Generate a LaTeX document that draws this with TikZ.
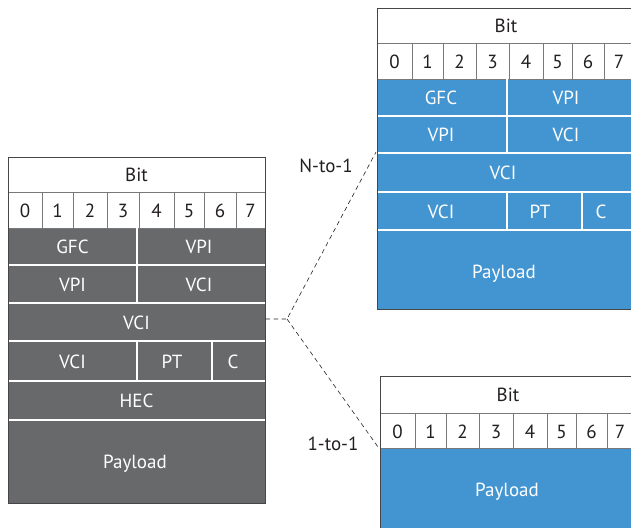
\documentclass[tikz,border=0pt]{standalone}
\usepackage{fontspec}
\setmainfont{PT Sans}
\definecolor{cgray}{RGB}{104,105,107}
\definecolor{cblue}{RGB}{67,149,209}
\definecolor{cline}{RGB}{70,70,72}
\definecolor{cthin}{RGB}{120,120,122}
\definecolor{ctext}{RGB}{35,31,32}
\begin{document}
\begin{tikzpicture}[x=1pt,y=-1pt,
  hdr/.style={draw=cthin, line width=0.8pt, fill=white},
  frame/.style={draw=cline, line width=0.9pt},
  sep/.style={draw=white, line width=2.6pt},
  cellline/.style={draw=cthin, line width=0.8pt},
  txt/.style={font=\fontsize{19}{22}\selectfont, inner sep=0pt, text height=13.3pt, text depth=0pt},
  dtxt/.style={txt, text=ctext},
  wtxt/.style={txt, text=white},
  conn/.style={draw=ctext, dash pattern=on 4.5pt off 3.5pt, line width=0.6pt}]
\useasboundingbox (0,0) rectangle (631,527);
\clip (0,0) rectangle (631,527);

% ---------------- left cell (grey) ----------------
\fill[cgray] (8,228) rectangle (265,503);
\draw[hdr] (8,157) rectangle (265,228);
\draw[cellline] (8,192) -- (265,192);
\foreach \x in {42,73,107,139,174,204,236} \draw[cellline] (\x,192) -- (\x,228);
\foreach \y in {265,303,341,381,420} \draw[sep] (8,\y) -- (265,\y);
\draw[sep] (137,228) -- (137,303);
\draw[sep] (137,341) -- (137,381);
\draw[sep] (212,341) -- (212,381);
\draw[frame] (8,157) rectangle (265,503);
\node[dtxt] (Lbit) at (136.5,175) {Bit};
\foreach \d/\x in {0/25,1/57.5,2/90,3/123,4/156.5,5/189,6/220,7/250.5}
  \node[dtxt] (L\d) at (\x,210.5) {\d};
\node[wtxt] (Lgfc) at (72.5,246.5) {GFC};
\node[wtxt] (Lvpia) at (199,246.5) {VPI};
\node[wtxt] (Lvpib) at (72.5,284.5) {VPI};
\node[wtxt] (Lvcia) at (199,284.5) {VCI};
\node[wtxt] (Lvcib) at (136.5,322.5) {VCI};
\node[wtxt] (Lvcic) at (72.5,361.5) {VCI};
\node[wtxt] (Lpt) at (172,361.5) {PT};
\node[wtxt] (Lc) at (233,361.5) {C};
\node[wtxt] (Lhec) at (136.5,401) {HEC};
\node[wtxt] (Lpay) at (135,462) {Payload};

% ---------------- top right cell (blue, N-to-1) ----------------
\fill[cblue] (377,79) rectangle (636,309);
\draw[hdr] (377,8) rectangle (636,79);
\draw[cellline] (377,43) -- (636,43);
\foreach \x in {412,443,476,509,543,572,604} \draw[cellline] (\x,43) -- (\x,79);
\foreach \y in {116,153,192,230} \draw[sep] (377,\y) -- (636,\y);
\draw[sep] (507,79) -- (507,153);
\draw[sep] (507,192) -- (507,230);
\draw[sep] (582,192) -- (582,230);
\draw[frame] (377,8) rectangle (636,309);
\node[dtxt] (Tbit) at (506,25.5) {Bit};
\foreach \d/\x in {0/394.5,1/427.5,2/459.5,3/492.5,4/526,5/557.5,6/588,7/619}
  \node[dtxt] (T\d) at (\x,61.5) {\d};
\node[wtxt] (Tgfc) at (441,98) {GFC};
\node[wtxt] (Tvpia) at (566,98) {VPI};
\node[wtxt] (Tvpib) at (441,135) {VPI};
\node[wtxt] (Tvcia) at (566,135) {VCI};
\node[wtxt] (Tvcib) at (503,173) {VCI};
\node[wtxt] (Tvcic) at (441,211.5) {VCI};
\node[wtxt] (Tpt) at (540,211.5) {PT};
\node[wtxt] (Tc) at (601,211.5) {C};
\node[wtxt] (Tpay) at (504,271.5) {Payload};

% ---------------- bottom right cell (blue, 1-to-1) ----------------
\fill[cblue] (380,448) rectangle (639,530);
\draw[hdr] (380,376) rectangle (639,448);
\draw[cellline] (380,413) -- (639,413);
\foreach \x in {415,446,479,513,547,576,607} \draw[cellline] (\x,413) -- (\x,448);
\draw[frame] (380,376) rectangle (639,530);
\node[dtxt] (Bbit) at (508,395) {Bit};
\foreach \d/\x in {0/397.5,1/430.5,2/462.5,3/496,4/530,5/561.5,6/591.5,7/620}
  \node[dtxt] (B\d) at (\x,431.5) {\d};
\node[wtxt] (Bpay) at (507,489.5) {Payload};

% ---------------- connectors ----------------
\coordinate (src) at (265.5,319);
\coordinate (fork) at (287,319);
\coordinate (topend) at (376,152);
\coordinate (botend) at (378,447);
\draw[conn] (src) -- (fork) -- (topend);
\draw[conn] (fork) -- (botend);
\node[dtxt] (nto1) at (326,166) {N-to-1};
\node[dtxt] (oto1) at (333,444) {1-to-1};
\end{tikzpicture}
\end{document}
